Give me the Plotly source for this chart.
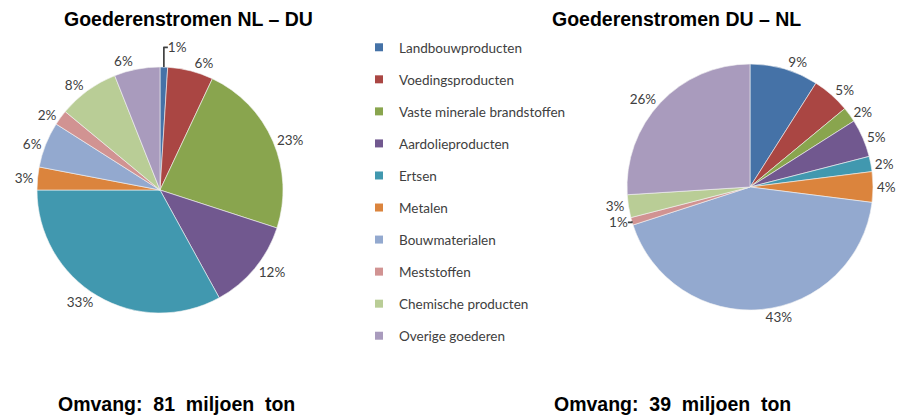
import plotly.graph_objects as go

CATEGORIES = ['Landbouwproducten', 'Voedingsproducten',
              'Vaste minerale brandstoffen', 'Aardolieproducten', 'Ertsen',
              'Metalen', 'Bouwmaterialen', 'Meststoffen',
              'Chemische producten', 'Overige goederen']
COLORS = ['#4572A7', '#AA4643', '#89A54E', '#71588F', '#4198AF',
          '#DB843D', '#93A9CF', '#D19392', '#B9CD96', '#A99BBD']

NL_DU = [1, 6, 23, 12, 33, 3, 6, 2, 8, 6]
DU_NL = [9, 5, 2, 5, 2, 4, 43, 1, 3, 26]

TITLES = ['Goederenstromen NL \u2013 DU', 'Goederenstromen DU \u2013 NL']
VOLUMES = [81, 39]

W, H = 909, 415
# the page body has an 8px margin, so shift everything back by that much
OFF = 8

LABEL_FONT = dict(family='Lato, Noto Sans, sans-serif', size=13.5,
                  color='#404040')
BOLD_FONT = dict(family='Liberation Sans, Arial', size=19.5, color='#000')


def px(x):
    return (x - OFF) / W


def py(y):
    return 1 - (y - OFF) / H


def pie_domain(cx, cy, r):
    # pixel centre / radius -> paper domain
    return dict(x=[px(cx - r), px(cx + r)], y=[py(cy + r), py(cy - r)])


fig = go.Figure()

for vals, (cx, cy) in zip([NL_DU, DU_NL], [(160, 190), (750, 187)]):
    fig.add_trace(go.Pie(
        labels=CATEGORIES, values=vals,
        marker=dict(colors=COLORS, line=dict(color='#f4f4f4', width=0.6)),
        texttemplate='%{value}%', textposition='outside',
        textfont=LABEL_FONT, outsidetextfont=LABEL_FONT,
        sort=False, direction='clockwise', rotation=0,
        domain=pie_domain(cx, cy, 123),
        showlegend=False, hoverinfo='label+value',
    ))

# separate legend entries so the rows can be spaced out like the original
for cat, col in zip(CATEGORIES, COLORS):
    fig.add_trace(go.Scatter(
        x=[None], y=[None], mode='markers', name=cat, legendgroup=cat,
        marker=dict(symbol='square', size=8, color=col),
    ))

fig.update_xaxes(visible=False)
fig.update_yaxes(visible=False)

for title, x in zip(TITLES, [188, 676]):
    fig.add_annotation(text='<b>%s</b>' % title, x=px(x), y=py(19),
                       xref='paper', yref='paper', showarrow=False,
                       xanchor='center', yanchor='middle', font=BOLD_FONT)

for vol, x in zip(VOLUMES, [56, 552]):
    fig.add_annotation(
        text='<b>Omvang:&nbsp; %d&nbsp; miljoen&nbsp; ton</b>' % vol,
        x=px(x), y=py(404), xref='paper', yref='paper',
        xanchor='left', yanchor='middle', showarrow=False, font=BOLD_FONT)

fig.update_layout(
    width=W, height=H,
    margin=dict(l=0, r=0, t=0, b=0),
    paper_bgcolor='white', plot_bgcolor='white',
    legend=dict(x=px(359), y=py(32), xanchor='left', yanchor='top',
                traceorder='grouped', tracegroupgap=11.5, itemwidth=30,
                font=LABEL_FONT, bgcolor='rgba(0,0,0,0)'),
)

fig.write_html('out.html')
